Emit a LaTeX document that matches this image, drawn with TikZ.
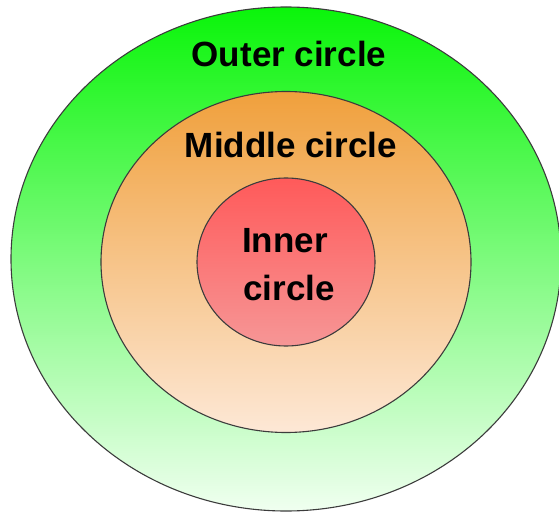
\documentclass[tikz,border=0pt]{standalone}
\usepackage{fontspec}
\setmainfont{Liberation Sans}
\usetikzlibrary{shapes.geometric}
\definecolor{outtop}{RGB}{10,245,10}
\definecolor{outbot}{RGB}{240,255,240}
\definecolor{midtop}{RGB}{240,160,60}
\definecolor{midbot}{RGB}{253,232,214}
\definecolor{inntop}{RGB}{255,90,90}
\definecolor{innbot}{RGB}{246,150,150}
\definecolor{rim}{RGB}{60,60,60}
\tikzset{
  ring/.style={ellipse, draw=rim, line width=1.1pt, inner sep=0pt},
  lbl/.style={font=\fontsize{35}{40}\selectfont\bfseries, anchor=base, inner sep=0pt}
}
\begin{document}
\begin{tikzpicture}[x=1pt,y=-1pt]
\fill[white] (0,0) rectangle (559,513);
\clip (0,0) rectangle (559,513);
\node[ring, top color=outtop, bottom color=outbot, minimum width=550pt, minimum height=504pt] (outer) at (286,259) {};
\node[ring, top color=midtop, bottom color=midbot, minimum width=370pt, minimum height=341pt] (middle) at (286,262) {};
\node[ring, top color=inntop, bottom color=innbot, minimum width=178pt, minimum height=168pt] (inner) at (286,262) {};
\node[lbl] (tout) at (289,67) {Outer circle};
\node[lbl] (tmid) at (291,158) {Middle circle};
\node[lbl] (tin1) at (285,252) {Inner};
\node[lbl] (tin2) at (289,300) {circle};
\end{tikzpicture}
\end{document}
